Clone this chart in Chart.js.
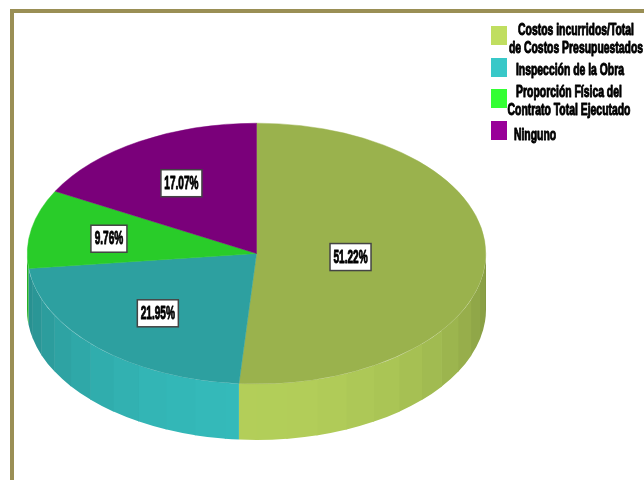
<!DOCTYPE html>
<html>
<head>
<meta charset="utf-8">
<style>
html,body{margin:0;padding:0;background:#fff;overflow:hidden;width:644px;height:480px}
#frame{position:absolute;left:10px;top:9px;width:800px;height:700px;border:4px solid #9A8F55;box-sizing:content-box}
#wrap{position:absolute;left:0;top:0;width:644px;height:480px}
</style>
<script src="https://cdn.jsdelivr.net/npm/chart.js@4"></script>
</head>
<body>
<div id="frame"></div>
<div id="wrap"><canvas id="c" width="644" height="480"></canvas></div>
<script>
const categories = ["Costos incurridos/Total de Costos Presupuestados","Inspección de la Obra","Proporción Física del Contrato Total Ejecutado","Ninguno"];
const legendLines = [["Costos incurridos/Total","de Costos Presupuestados"],["Inspección de la Obra"],["Proporción Física del","Contrato Total Ejecutado"],["Ninguno"]];
const values = [21,9,4,7];
const baseColors = [[192,222,96],[56,200,200],[51,255,51],[153,0,153]];
const labelRadius = [0.41,0.62,0.655,0.64];

const CX=256.5, CY=253.5, RX=229.5, RY=130.5, DEPTH=56, BAND=7.7*Math.PI/180;
const KY=RY/RX;
const rgb=(c,f)=>`rgb(${Math.round(c[0]*f)},${Math.round(c[1]*f)},${Math.round(c[2]*f)})`;
const total=values.reduce((a,b)=>a+b,0);

function narrow(ctx,text,x,y,size,sx,align){
  ctx.save();
  ctx.translate(x,y);
  ctx.scale(sx,1);
  ctx.font=`bold ${size}px "Liberation Sans"`;
  ctx.textAlign=align||'center';
  ctx.textBaseline='middle';
  ctx.fillStyle='#000';ctx.strokeStyle='#000';ctx.lineWidth=1;ctx.lineJoin='round';
  ctx.strokeText(text,0,0);
  ctx.fillText(text,0,0);
  ctx.restore();
}

const pie3d={
  id:'pie3d',
  beforeDatasetsDraw(chart){
    const ctx=chart.ctx, arcs=chart.getDatasetMeta(0).data;
    arcs.forEach((arc,i)=>{
      const s=Math.max(arc.startAngle,0), e=Math.min(arc.endAngle,Math.PI);
      if(e<=s) return;
      let a=s;
      while(a<e){
        const k=Math.floor((a-Math.PI/2+1e-6)/BAND);
        const next=Math.min(e,Math.PI/2+(k+1)*BAND);
        const off=Math.abs((a+next)/2-Math.PI/2);
        const f=0.93-0.25*(1-Math.cos(off));
        ctx.fillStyle=rgb(baseColors[i],f);
        ctx.beginPath();
        ctx.ellipse(CX,CY,RX,RY,0,a,Math.min(next+0.004,e));
        ctx.ellipse(CX,CY+DEPTH,RX,RY,0,Math.min(next+0.004,e),a,true);
        ctx.closePath();
        ctx.fill();
        a=next;
      }
    });
    ctx.save();
    const c0=arcs[0];
    ctx.translate(CX,CY);ctx.scale(1,KY);ctx.translate(-c0.x,-c0.y);
  },
  afterDatasetsDraw(chart){
    const ctx=chart.ctx, arcs=chart.getDatasetMeta(0).data;
    ctx.restore();
    arcs.forEach((arc,i)=>{
      const mid=(arc.startAngle+arc.endAngle)/2;
      const x=CX+RX*labelRadius[i]*Math.cos(mid);
      const y=CY+1.5+RY*labelRadius[i]*Math.sin(mid);
      const t=(values[i]/total*100).toFixed(2)+'%';
      const bw=t.length===5?36:41, bh=27;
      ctx.fillStyle='#fff';ctx.strokeStyle='#444';ctx.lineWidth=1.5;
      ctx.fillRect(x-bw/2,y-bh/2,bw,bh);
      ctx.strokeRect(x-bw/2,y-bh/2,bw,bh);
      narrow(ctx,t,x,y+0.5,19,0.53);
    });
    // legend
    const sw=[[491,26],[491,58],[491,89],[491,121]];
    const blockX=[576,570,569,535];
    const lineY=[[31,49],[71],[93,111],[136]];
    legendLines.forEach((lines,i)=>{
      ctx.fillStyle=rgb(baseColors[i],1);
      ctx.fillRect(sw[i][0],sw[i][1],16,19);
      lines.forEach((ln,j)=>narrow(ctx,ln,blockX[i],lineY[i][j],16,0.65));
    });
  }
};

const topColors=baseColors.map(c=>rgb(c,0.8));
new Chart(document.getElementById('c'),{
  type:'pie',
  data:{labels:categories,datasets:[{data:values,backgroundColor:topColors,borderColor:topColors,borderWidth:0.6}]},
  options:{
    responsive:false,animation:false,
    layout:{padding:{left:27,right:158,top:10.5,bottom:10.5}},
    plugins:{legend:{display:false},tooltip:{enabled:false}},
    events:[]
  },
  plugins:[pie3d]
});
</script>
</body>
</html>
